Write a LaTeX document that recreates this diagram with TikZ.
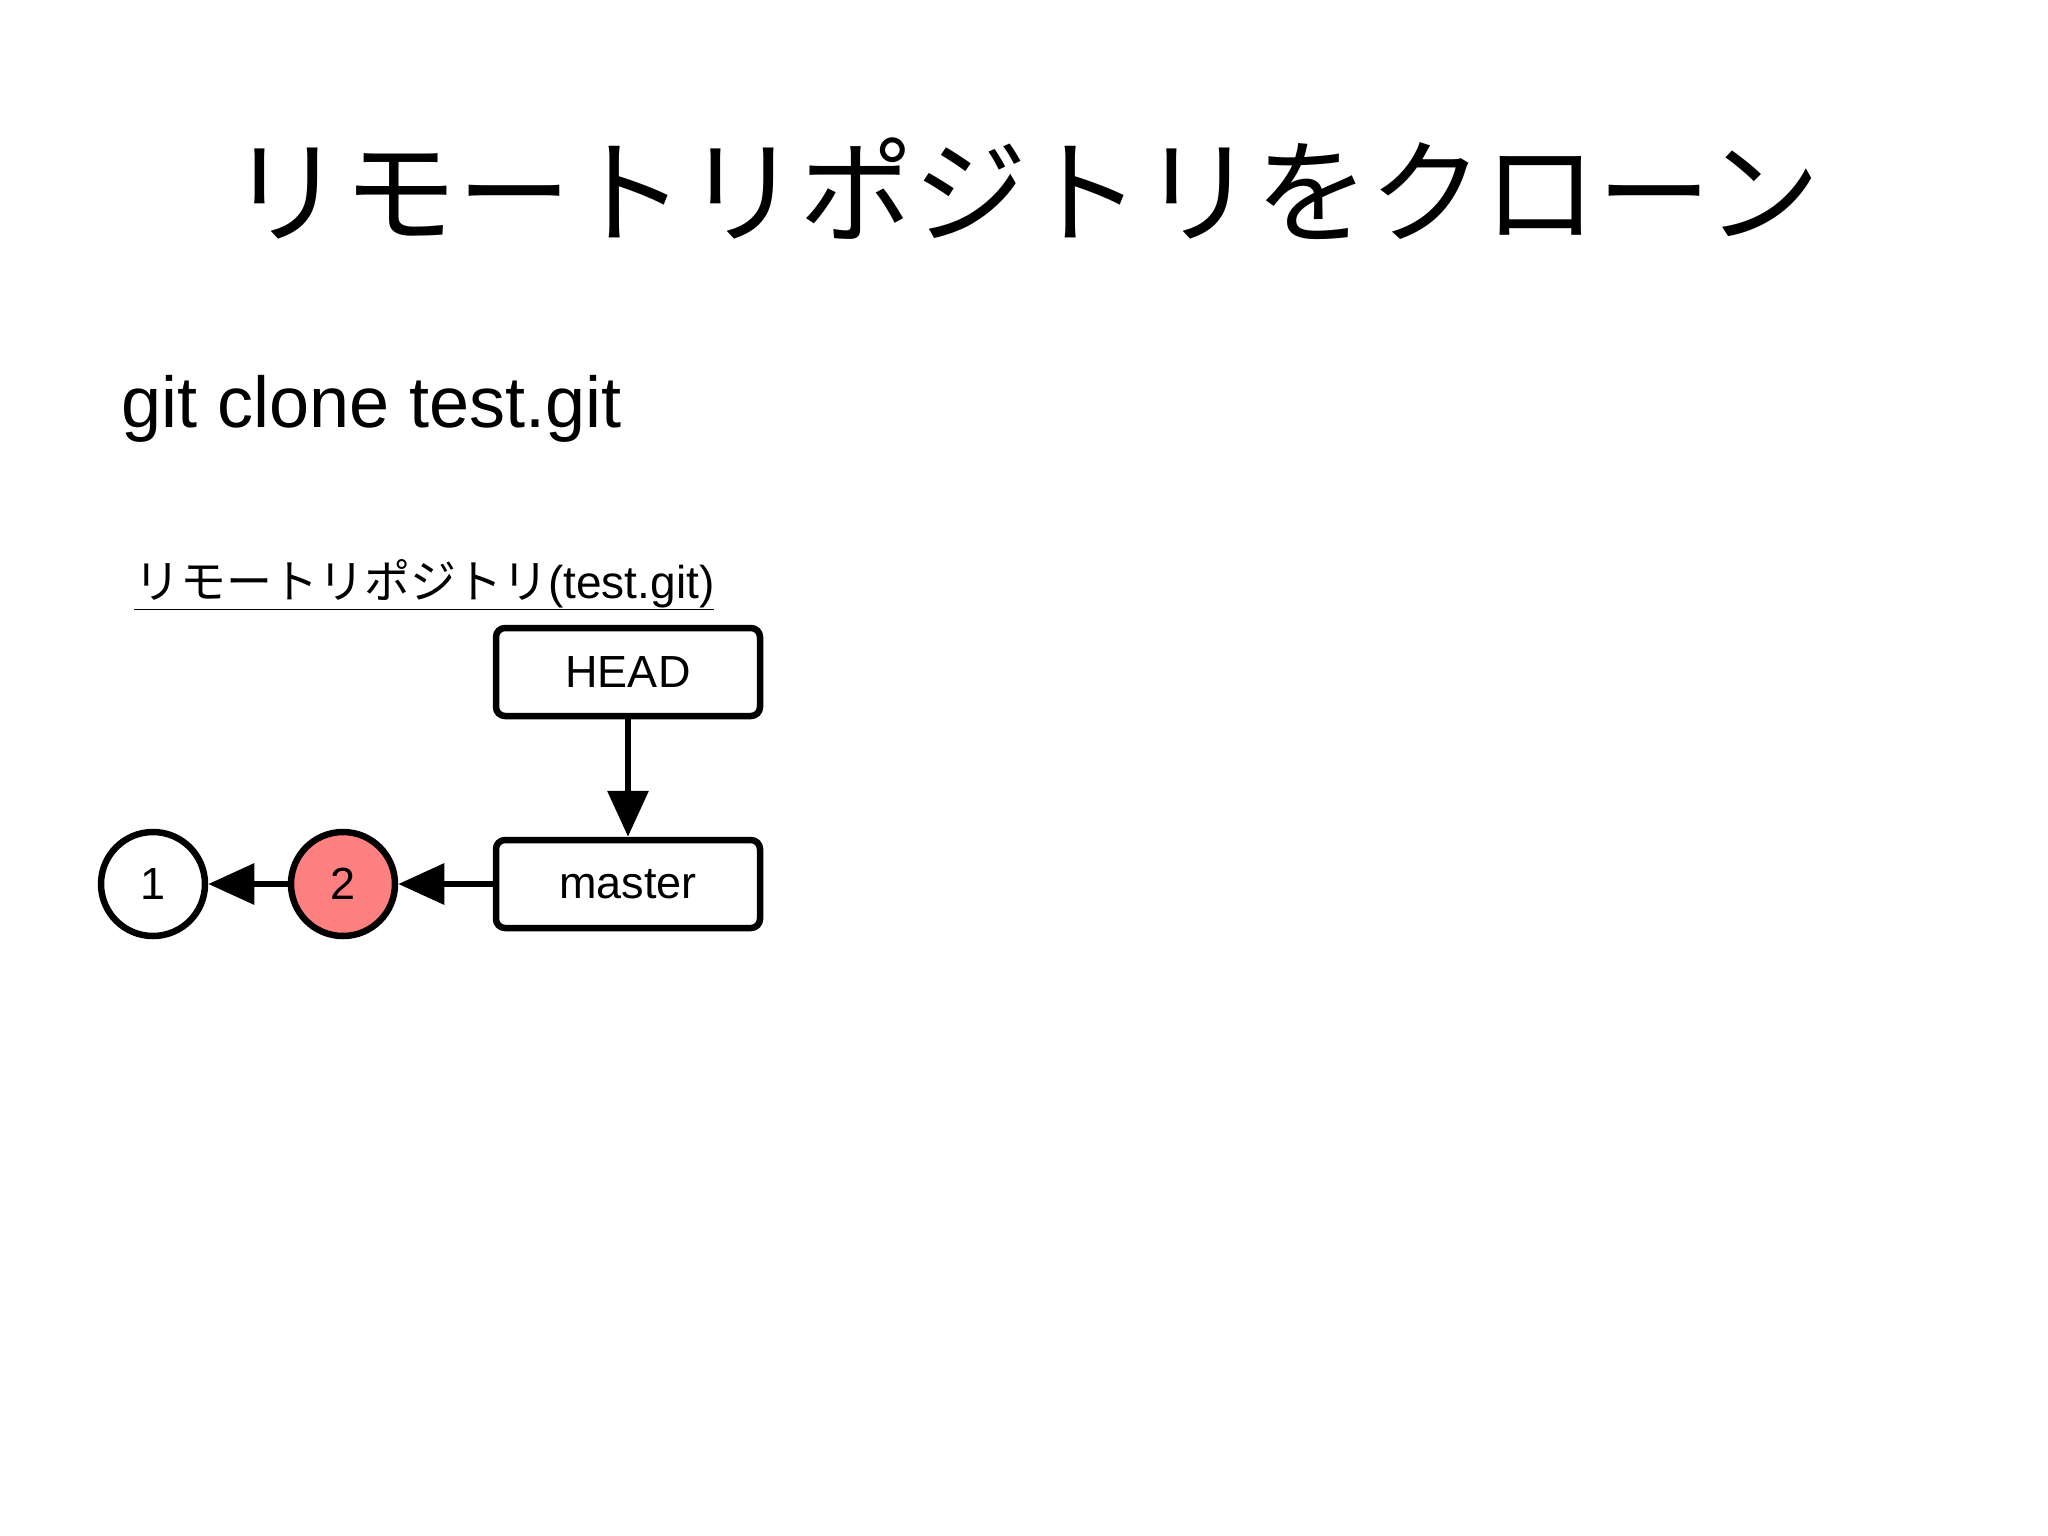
\documentclass[tikz,border=0pt]{standalone}
\usepackage{fontspec}
\setmainfont{Liberation Sans}
\newfontfamily\cjk{Noto Sans CJK JP}
\usetikzlibrary{arrows.meta}
\begin{document}
\begin{tikzpicture}[x=1pt,y=1pt,
  box/.style={draw,line width=6.5pt,rounded corners=9pt,minimum width=264pt,minimum height=88pt,font=\fontsize{45}{50}\selectfont},
  commit/.style={draw,circle,line width=6.5pt,minimum size=104pt,inner sep=0pt,font=\fontsize{45}{50}\selectfont},
  conn/.style={line width=6.5pt,-{Triangle[length=46pt,width=40pt]}}]
\useasboundingbox (0,0) rectangle (2048,-1535);
\fill[white] (0,0) rectangle (2048,-1535);
\node (title) at (1025,-189) {\cjk\fontsize{114}{120}\selectfont リモートリポジトリをクローン};
\node[anchor=base west,inner sep=0pt] (cmd) at (121,-427) {\fontsize{72}{78}\selectfont git clone test.git};
\node[anchor=base west,inner sep=0pt] (sub) at (134,-598) {\fontsize{46}{50}\selectfont\underline{{\cjk リモートリポジトリ}(test.git)}};
\node[box] (head) at (628,-672) {HEAD};
\node[box] (master) at (628,-884) {master};
\node[commit] (c1) at (153,-884) {1};
\node[commit,fill={rgb,255:red,255;green,128;blue,128}] (c2) at (343,-884) {2};
\draw[conn] (head) -- (master);
\draw[conn] (master) -- (c2);
\draw[conn] (c2) -- (c1);
\end{tikzpicture}
\end{document}
